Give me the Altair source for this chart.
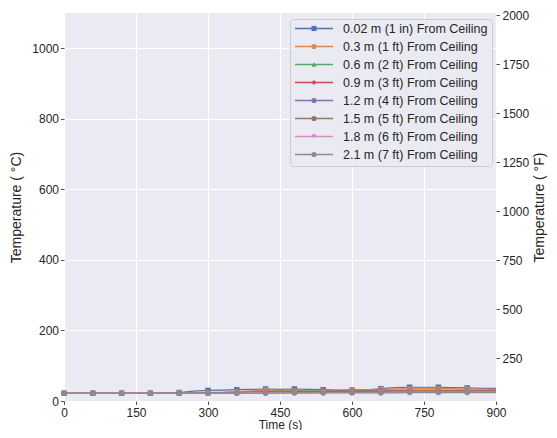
import altair as alt
import pandas as pd

time_s = list(range(0, 901, 30))

series_names = [
    "0.02 m (1 in) From Ceiling",
    "0.3 m (1 ft) From Ceiling",
    "0.6 m (2 ft) From Ceiling",
    "0.9 m (3 ft) From Ceiling",
    "1.2 m (4 ft) From Ceiling",
    "1.5 m (5 ft) From Ceiling",
    "1.8 m (6 ft) From Ceiling",
    "2.1 m (7 ft) From Ceiling",
]
colors = ["#4C72B0", "#DD8452", "#55A868", "#C44E52", "#8172B3", "#937860", "#DA8BC3", "#8C8C8C"]

tc_002 = [22, 22, 22, 22, 22, 22, 22, 23, 24, 28, 30, 31, 32, 33, 34, 33, 34, 33, 32, 31, 31, 31, 35, 38, 39, 39, 39, 38, 37, 36, 36]
tc_03 = [22, 22, 22, 22, 22, 22, 22, 22, 22, 23, 24, 25, 27, 29, 31, 30, 30, 29, 29, 30, 32, 32, 33, 34, 35, 35, 35, 35, 34, 34, 33]
tc_06 = [22, 22, 22, 22, 22, 22, 22, 22, 22, 22, 23, 24, 25, 26, 27, 28, 28, 28, 28, 29, 30, 31, 31, 31, 31, 31, 31, 31, 31, 31, 31]
tc_09 = [22, 22, 22, 22, 22, 22, 22, 22, 22, 22, 22, 23, 24, 25, 26, 26, 27, 27, 27, 28, 28, 28, 29, 29, 29, 29, 29, 29, 29, 29, 29]
tc_12 = [22, 22, 22, 22, 22, 22, 22, 22, 22, 22, 22, 23, 23, 24, 24, 25, 25, 25, 25, 26, 26, 26, 27, 27, 27, 27, 27, 27, 27, 27, 27]
tc_15 = [22, 22, 22, 22, 22, 22, 22, 22, 22, 22, 22, 22, 23, 23, 23, 24, 24, 24, 24, 25, 25, 25, 25, 26, 26, 26, 26, 26, 26, 26, 26]
tc_18 = [22, 22, 22, 22, 22, 22, 22, 22, 22, 22, 22, 22, 22, 23, 23, 23, 23, 23, 24, 24, 24, 24, 24, 25, 25, 25, 25, 25, 25, 25, 25]
tc_21 = [22, 22, 22, 22, 22, 22, 22, 22, 22, 22, 22, 22, 22, 22, 22, 22, 23, 23, 23, 23, 23, 23, 23, 23, 24, 24, 24, 24, 24, 24, 24]

all_series = [tc_002, tc_03, tc_06, tc_09, tc_12, tc_15, tc_18, tc_21]

plot_shapes = ["square", "circle", "triangle-up", "diamond", "circle", "circle", "triangle-down", "circle"]

rows = []
for k, (name, vals) in enumerate(zip(series_names, all_series)):
    for t, v in zip(time_s, vals):
        rows.append({"t": t, "temp": v, "series": name, "k": k})
df = pd.DataFrame(rows)
legend_df = pd.DataFrame({"series": series_names, "k": list(range(len(series_names)))})

FONT = "Liberation Sans"
TXT = "#262626"

xscale = alt.Scale(domain=[0, 900], nice=False, zero=False)
yscale = alt.Scale(domain=[0, 1100], nice=False)
color_scale = alt.Scale(domain=series_names, range=colors)
shape_scale = alt.Scale(domain=series_names, range=plot_shapes)

x_enc = alt.X("t:Q", scale=xscale, axis=alt.Axis(
    title="Time (s)", values=list(range(0, 901, 150)), grid=True, gridColor="white",
    gridWidth=1.1, domain=False, tickColor="#555555", tickSize=3.5, labelFontSize=12,
    labelFont=FONT, labelColor=TXT, titleFont=FONT, titleFontSize=12, titleColor=TXT,
    titleFontWeight="normal", labelPadding=2.5, titlePadding=1, labelFlush=False, format="d"))
y_enc = alt.Y("temp:Q", scale=yscale, axis=alt.Axis(
    title="Temperature ( °C)", values=list(range(0, 1001, 200)), grid=True, gridColor="white",
    gridWidth=1.1, domain=False, tickColor="#555555", tickSize=3.5, labelFontSize=12,
    labelFont=FONT, labelColor=TXT, titleFont=FONT, titleFontSize=14, titleColor=TXT,
    titleFontWeight="normal", labelPadding=2, titlePadding=8, format="d"))

lines = alt.Chart(df).mark_line(strokeWidth=1.2).encode(
    x=x_enc, y=y_enc,
    color=alt.Color("series:N", scale=color_scale, legend=None),
    order="t:Q",
)

points = alt.Chart(df).transform_filter(
    "datum.t % 60 == 0 && datum.t < 900"
).mark_point(filled=True, size=30, opacity=1).encode(
    x=x_enc, y=y_enc,
    color=alt.Color("series:N", scale=color_scale, legend=None),
    shape=alt.Shape("series:N", scale=shape_scale, legend=None),
    order="k:Q",
)

base = alt.layer(lines, points)

right = alt.Chart(df).transform_calculate(
    tf="datum.temp * 9 / 5 + 32"
).mark_line(opacity=0).encode(
    x=alt.X("t:Q", scale=xscale),
    y=alt.Y("tf:Q", scale=alt.Scale(domain=[32, 2012], nice=False, zero=False), axis=alt.Axis(
        orient="right", title="Temperature ( °F)", values=list(range(250, 2001, 250)),
        grid=False, domain=False, tickColor="#555555", tickSize=3.5, labelFontSize=12,
        labelFont=FONT, labelColor=TXT, titleFont=FONT, titleFontSize=14, titleColor=TXT,
        titleFontWeight="normal", labelPadding=2.5, titlePadding=4, titleAngle=270,
        titleBaseline="top", format="d")),
    detail="series:N",
)

# legend drawn inside the plot, top right
ly = alt.Y("ly:Q", scale=None, axis=None)
leg_box = alt.Chart(pd.DataFrame({"a": [0]})).mark_rect(
    fill="#EAEAF2", fillOpacity=0.85, stroke="#CCCCCC", strokeWidth=1, cornerRadius=3
).encode(x=alt.value(226.5), x2=alt.value(428.5), y=alt.value(6.5), y2=alt.value(153.5))
leg_lines = alt.Chart(legend_df).transform_calculate(ly="15.5 + 18 * datum.k").mark_rule(
    strokeWidth=1.3, opacity=1
).encode(
    x=alt.value(231), x2=alt.value(269), y=ly,
    color=alt.Color("series:N", scale=color_scale, legend=None),
)
leg_pts = alt.Chart(legend_df).transform_calculate(ly="15.5 + 18 * datum.k").mark_point(
    filled=True, size=26, opacity=1
).encode(
    x=alt.value(250), y=ly,
    color=alt.Color("series:N", scale=color_scale, legend=None),
    shape=alt.Shape("series:N", scale=shape_scale, legend=None),
)
leg_text = alt.Chart(legend_df).transform_calculate(ly="15.5 + 18 * datum.k").mark_text(
    align="left", baseline="middle", font=FONT, fontSize=12.5, color=TXT
).encode(x=alt.value(279), y=ly, text="series:N")

legend = alt.layer(leg_box, leg_lines, leg_pts, leg_text)

chart = alt.layer(base, right, legend).resolve_scale(y="independent").properties(
    width=432, height=388,
    autosize=alt.AutoSizeParams(type="none"),
    padding={"left": 56, "top": 5, "right": 53, "bottom": 29},
).configure_view(
    fill="#EAEAF2", strokeWidth=0
)

chart.save("out.html", embed_options={"renderer": "svg", "actions": False})
